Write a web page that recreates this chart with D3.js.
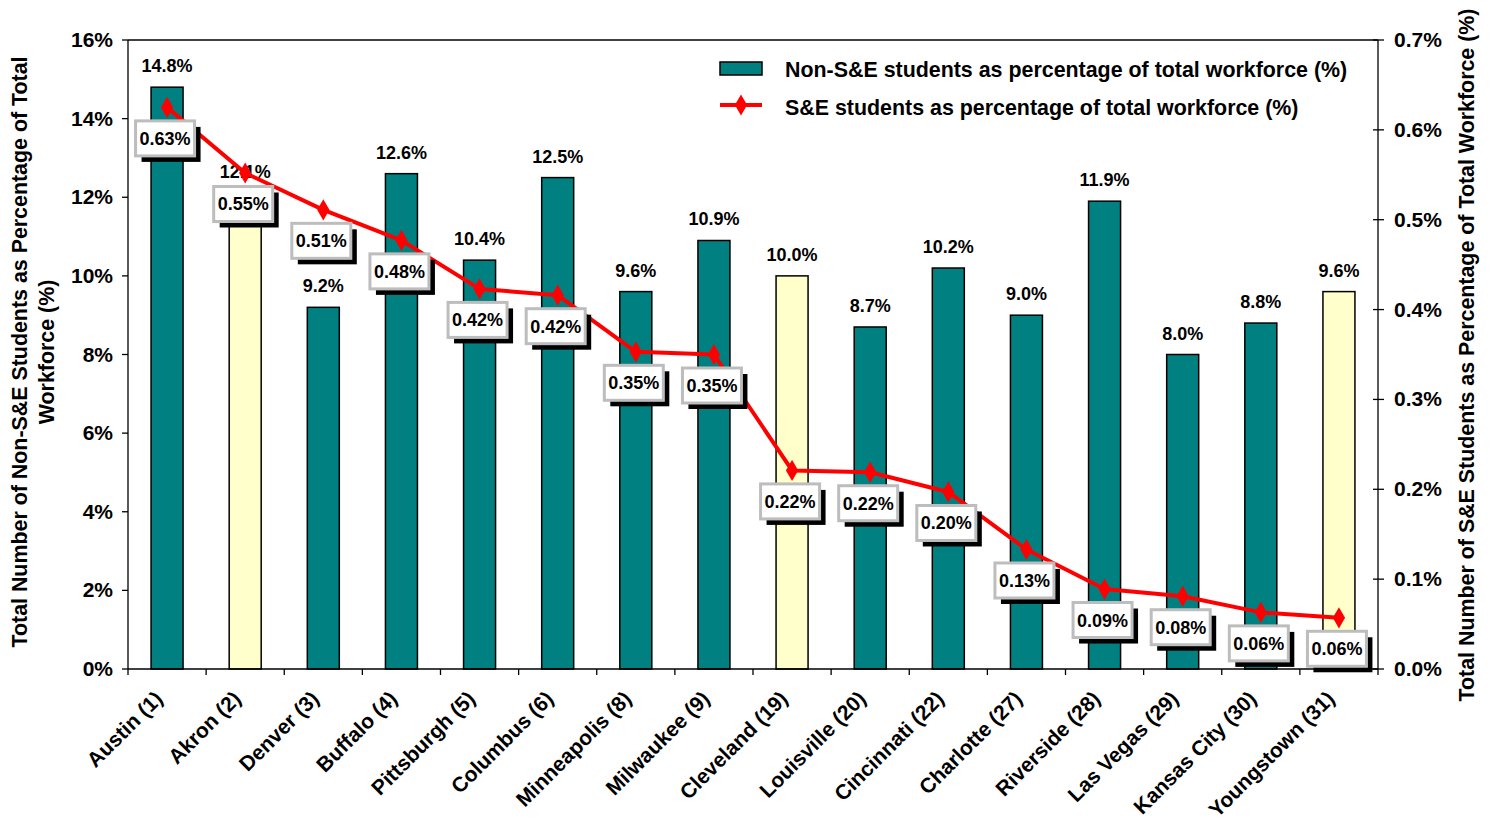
<!DOCTYPE html>
<html>
<head>
<meta charset="utf-8">
<script src="https://cdn.jsdelivr.net/npm/d3@7"></script>
<style>
  html, body { margin: 0; padding: 0; background: #fff; }
  svg text { font-family: Arial, "Liberation Sans", sans-serif; font-weight: bold; fill: #000; }
</style>
</head>
<body>
<svg id="chart" width="1493" height="825"></svg>
<script>
// ---------- data ----------
const cities = ["Austin (1)", "Akron (2)", "Denver (3)", "Buffalo (4)", "Pittsburgh (5)", "Columbus (6)",
  "Minneapolis (8)", "Milwaukee (9)", "Cleveland (19)", "Louisville (20)", "Cincinnati (22)", "Charlotte (27)",
  "Riverside (28)", "Las Vegas (29)", "Kansas City (30)", "Youngstown (31)"];
const nonSE = [14.8, 12.1, 9.2, 12.6, 10.4, 12.5, 9.6, 10.9, 10.0, 8.7, 10.2, 9.0, 11.9, 8.0, 8.8, 9.6];
const se = [0.625, 0.552, 0.511, 0.477, 0.423, 0.416, 0.353, 0.350, 0.221, 0.219, 0.197, 0.133, 0.089, 0.081, 0.063, 0.057];
const highlighted = ["Akron (2)", "Cleveland (19)", "Youngstown (31)"];
const leftTicks = [0, 2, 4, 6, 8, 10, 12, 14, 16];
const rightTicks = [0, 0.1, 0.2, 0.3, 0.4, 0.5, 0.6, 0.7];

const TEAL = "#008080", PALE = "#FFFFCC", RED = "#FF0000";

const svg = d3.select("#chart");
const m = { l: 128, r: 1378, t: 40, b: 669 };

const x = d3.scaleBand().domain(cities).range([m.l, m.r]);
const yL = d3.scaleLinear().domain([0, 16]).range([m.b, m.t]);
const yR = d3.scaleLinear().domain([0, 0.7]).range([m.b, m.t]);
const cx = (c) => x(c) + x.bandwidth() / 2;

// ---------- bars ----------
const barW = 32;
svg.append("g").selectAll("rect")
  .data(cities)
  .join("rect")
  .attr("x", (c) => cx(c) - barW / 2)
  .attr("y", (c, i) => yL(nonSE[i]))
  .attr("width", barW)
  .attr("height", (c, i) => m.b - yL(nonSE[i]))
  .attr("fill", (c) => (highlighted.includes(c) ? PALE : TEAL))
  .attr("stroke", "#000")
  .attr("stroke-width", 1.5);

svg.append("g").selectAll("text")
  .data(cities)
  .join("text")
  .attr("x", (c) => cx(c))
  .attr("y", (c, i) => yL(nonSE[i]) - 15)
  .attr("text-anchor", "middle")
  .attr("font-size", 18)
  .text((c, i) => nonSE[i].toFixed(1) + "%");

// ---------- axes ----------
const ax = svg.append("g").attr("stroke", "#000").attr("stroke-width", 1.3);
ax.append("line").attr("x1", m.l).attr("x2", m.r).attr("y1", m.t).attr("y2", m.t);
ax.append("line").attr("x1", m.l).attr("x2", m.l).attr("y1", m.t).attr("y2", m.b);
ax.append("line").attr("x1", m.r).attr("x2", m.r).attr("y1", m.t).attr("y2", m.b);
ax.append("line").attr("x1", m.l).attr("x2", m.r).attr("y1", m.b).attr("y2", m.b);

leftTicks.forEach((v) => {
  ax.append("line").attr("x1", m.l - 6).attr("x2", m.l).attr("y1", yL(v)).attr("y2", yL(v));
  svg.append("text").attr("x", m.l - 15).attr("y", yL(v) + 7).attr("text-anchor", "end")
    .attr("font-size", 21).text(v + "%");
});
rightTicks.forEach((v) => {
  ax.append("line").attr("x1", m.r - 5).attr("x2", m.r + 6).attr("y1", yR(v)).attr("y2", yR(v));
  svg.append("text").attr("x", m.r + 16).attr("y", yR(v) + 7).attr("text-anchor", "start")
    .attr("font-size", 21).text(v.toFixed(1) + "%");
});
cities.forEach((c) => {
  ax.append("line").attr("x1", x(c)).attr("x2", x(c)).attr("y1", m.b).attr("y2", m.b + 6);
});
ax.append("line").attr("x1", m.r).attr("x2", m.r).attr("y1", m.b).attr("y2", m.b + 6);

svg.append("g").selectAll("text")
  .data(cities)
  .join("text")
  .attr("text-anchor", "end")
  .attr("font-size", 21)
  .attr("transform", (c) => `translate(${cx(c) - 3},${m.b + 31}) rotate(-45)`)
  .text((c) => c);

// axis titles
svg.append("text").attr("font-size", 21.4).attr("text-anchor", "middle")
  .attr("transform", "translate(27,352) rotate(-90)")
  .text("Total Number of Non-S&E Students as Percentage of Total");
svg.append("text").attr("font-size", 21.4).attr("text-anchor", "middle")
  .attr("transform", "translate(54,352) rotate(-90)")
  .text("Workforce (%)");
svg.append("text").attr("font-size", 21.4).attr("text-anchor", "middle")
  .attr("transform", "translate(1474,355) rotate(-90)")
  .text("Total Number of S&E Students as Percentage of Total Workforce (%)");

// ---------- line ----------
const line = d3.line().x((c) => cx(c)).y((c, i) => yR(se[i]));
svg.append("path").datum(cities)
  .attr("d", line)
  .attr("fill", "none")
  .attr("stroke", RED)
  .attr("stroke-width", 4)
  .attr("stroke-linejoin", "round");

const diamond = d3.symbol().type(d3.symbolDiamond).size(130);
svg.append("g").selectAll("path")
  .data(cities)
  .join("path")
  .attr("d", diamond)
  .attr("transform", (c, i) => `translate(${cx(c)},${yR(se[i])})`)
  .attr("fill", RED);

// boxed labels for the S&E line
const bw = 59, bh = 35;
const lab = svg.append("g").selectAll("g")
  .data(cities)
  .join("g")
  .attr("transform", (c, i) => `translate(${cx(c) - 2},${yR(se[i]) + 31})`);
lab.append("rect").attr("x", -bw / 2 + 6).attr("y", -bh / 2 + 6).attr("width", bw).attr("height", bh).attr("fill", "#000");
lab.append("rect").attr("x", -bw / 2).attr("y", -bh / 2).attr("width", bw).attr("height", bh)
  .attr("fill", "#fff").attr("stroke", "#bdbdbd").attr("stroke-width", 3);
lab.append("text").attr("text-anchor", "middle").attr("y", 6.5).attr("font-size", 18)
  .text((c, i) => se[i].toFixed(2) + "%");

// ---------- legend ----------
const lg = svg.append("g");
lg.append("rect").attr("x", 720).attr("y", 62).attr("width", 42).attr("height", 13)
  .attr("fill", TEAL).attr("stroke", "#000").attr("stroke-width", 1.5);
lg.append("text").attr("x", 785).attr("y", 77).attr("font-size", 21.4)
  .text("Non-S&E students as percentage of total workforce (%)");
lg.append("line").attr("x1", 720).attr("x2", 762).attr("y1", 105).attr("y2", 105)
  .attr("stroke", RED).attr("stroke-width", 4);
lg.append("path").attr("d", diamond).attr("transform", "translate(741,105)").attr("fill", RED);
lg.append("text").attr("x", 785).attr("y", 115).attr("font-size", 21.4)
  .text("S&E students as percentage of total workforce (%)");
</script>
</body>
</html>
